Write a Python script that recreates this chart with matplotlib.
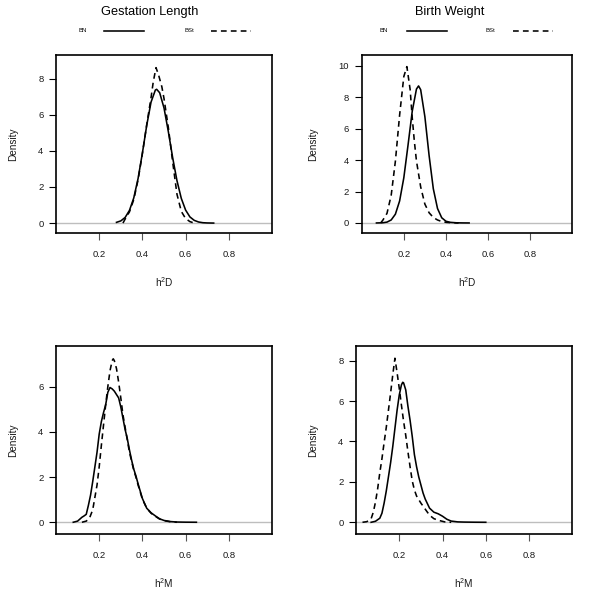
import matplotlib
matplotlib.use("Agg")
import matplotlib.pyplot as plt
from matplotlib.lines import Line2D

plt.rcParams['font.family'] = ['Liberation Sans', 'DejaVu Sans']
plt.rcParams['mathtext.default'] = 'regular'

# ---------------- data ----------------
titles = ["Gestation Length", "Birth Weight"]
series_names = ["BN", "BSt"]
xlabels = ["h$^{2}$D", "h$^{2}$D", "h$^{2}$M", "h$^{2}$M"]
x_ticks = [0.2, 0.4, 0.6, 0.8]
y_ticks_p1 = [0, 2, 4, 6, 8]
y_ticks_p2 = [0, 2, 4, 6, 8, 10]
y_ticks_p3 = [0, 2, 4, 6]
y_ticks_p4 = [0, 2, 4, 6, 8]

# Panel 1: Gestation Length, h2D
p1_bn_x = [0.28, 0.30, 0.32, 0.34, 0.36, 0.38, 0.40, 0.42, 0.44, 0.46, 0.466, 0.48, 0.50,
           0.52, 0.54, 0.56, 0.58, 0.60, 0.62, 0.64, 0.66, 0.68, 0.70, 0.73]
p1_bn_y = [0.04, 0.12, 0.31, 0.70, 1.39, 2.47, 3.88, 5.41, 6.70, 7.37, 7.41, 7.22, 6.38,
           5.07, 3.63, 2.35, 1.37, 0.72, 0.34, 0.15, 0.06, 0.02, 0.007, 0.0]
p1_bst_x = [0.31, 0.32, 0.34, 0.36, 0.38, 0.40, 0.42, 0.44, 0.45, 0.463, 0.475, 0.49, 0.50,
            0.52, 0.54, 0.56, 0.58, 0.60, 0.62, 0.64]
p1_bst_y = [0.0, 0.22, 0.62, 1.30, 2.40, 3.85, 5.45, 6.95, 7.80, 8.61, 8.20, 7.55, 6.90,
            5.30, 3.40, 1.60, 0.65, 0.25, 0.08, 0.0]

# Panel 2: Birth Weight, h2D
p2_bn_x = [0.07, 0.10, 0.12, 0.14, 0.16, 0.18, 0.20, 0.22, 0.24, 0.26, 0.27, 0.28, 0.30,
           0.32, 0.34, 0.36, 0.38, 0.40, 0.42, 0.45, 0.48, 0.51]
p2_bn_y = [0.0, 0.013, 0.054, 0.19, 0.56, 1.40, 2.88, 4.96, 7.12, 8.53, 8.73, 8.49, 6.77,
           4.30, 2.18, 0.92, 0.33, 0.11, 0.04, 0.01, 0.003, 0.0]
p2_bst_x = [0.09, 0.10, 0.12, 0.14, 0.16, 0.18, 0.20, 0.2145, 0.23, 0.24, 0.25, 0.26, 0.28,
            0.30, 0.32, 0.34, 0.36, 0.38, 0.40, 0.43, 0.46]
p2_bst_y = [0.0, 0.17, 0.61, 1.76, 3.94, 6.87, 9.33, 9.96, 8.50, 6.70, 5.20, 3.95, 2.30,
            1.20, 0.65, 0.35, 0.19, 0.09, 0.04, 0.01, 0.0]

# Panel 3: Gestation Length, h2M
p3_bn_x = [0.08, 0.10, 0.12, 0.13, 0.14, 0.15, 0.16, 0.17, 0.18, 0.19, 0.20, 0.21, 0.22,
           0.23, 0.24, 0.25, 0.26, 0.27, 0.28, 0.29, 0.30, 0.31, 0.32, 0.33, 0.34, 0.35,
           0.36, 0.37, 0.38, 0.40, 0.42, 0.44, 0.46, 0.48, 0.50, 0.53, 0.56, 0.60, 0.65]
p3_bn_y = [0.0, 0.05, 0.22, 0.28, 0.35, 0.75, 1.20, 1.80, 2.45, 3.10, 3.90, 4.45, 4.85,
           5.20, 5.75, 5.96, 5.90, 5.80, 5.65, 5.50, 5.10, 4.60, 4.10, 3.70, 3.20, 2.75,
           2.35, 2.05, 1.70, 1.05, 0.62, 0.42, 0.28, 0.15, 0.08, 0.03, 0.01, 0.003, 0.0]
p3_bst_x = [0.12, 0.14, 0.155, 0.17, 0.18, 0.19, 0.20, 0.21, 0.22, 0.23, 0.24, 0.25, 0.26,
            0.265, 0.27, 0.28, 0.29, 0.30, 0.31, 0.32, 0.33, 0.34, 0.35, 0.36, 0.37, 0.38,
            0.40, 0.42, 0.44, 0.46, 0.48, 0.50, 0.53, 0.56]
p3_bst_y = [0.0, 0.05, 0.18, 0.55, 1.10, 1.65, 2.45, 3.40, 4.30, 5.20, 6.00, 6.70, 7.15,
            7.23, 7.15, 6.80, 6.20, 5.50, 4.75, 4.20, 3.65, 3.10, 2.70, 2.30, 2.00, 1.65,
            1.02, 0.62, 0.40, 0.26, 0.14, 0.07, 0.02, 0.0]

# Panel 4: Birth Weight, h2M
p4_bn_x = [0.07, 0.09, 0.11, 0.12, 0.13, 0.14, 0.15, 0.16, 0.17, 0.18, 0.19, 0.20, 0.21,
           0.216, 0.22, 0.23, 0.24, 0.25, 0.26, 0.27, 0.28, 0.29, 0.30, 0.31, 0.32, 0.34,
           0.36, 0.38, 0.40, 0.42, 0.44, 0.47, 0.50, 0.55, 0.60]
p4_bn_y = [0.0, 0.05, 0.20, 0.45, 0.95, 1.55, 2.25, 2.95, 3.75, 4.65, 5.55, 6.30, 6.80,
           6.93, 6.90, 6.55, 5.75, 5.05, 4.25, 3.35, 2.75, 2.25, 1.85, 1.45, 1.15, 0.70,
           0.50, 0.42, 0.30, 0.15, 0.06, 0.02, 0.01, 0.003, 0.0]
p4_bst_x = [0.03, 0.05, 0.07, 0.08, 0.09, 0.10, 0.11, 0.12, 0.13, 0.14, 0.15, 0.16, 0.17,
            0.18, 0.19, 0.20, 0.21, 0.22, 0.23, 0.24, 0.25, 0.26, 0.27, 0.28, 0.30, 0.32,
            0.34, 0.36, 0.38, 0.41, 0.44]
p4_bst_y = [0.0, 0.03, 0.18, 0.50, 1.00, 1.65, 2.45, 3.15, 3.95, 4.70, 5.55, 6.40, 7.30,
            8.12, 7.40, 6.63, 5.80, 5.00, 4.30, 3.50, 2.75, 2.05, 1.60, 1.30, 0.95, 0.65,
            0.35, 0.18, 0.10, 0.02, 0.0]

# ---------------- figure ----------------
W = H = 600
fig = plt.figure(figsize=(6, 6), dpi=100)

def px_rect(x0, y0, x1, y1):
    return [x0 / W, 1 - y1 / H, (x1 - x0) / W, (y1 - y0) / H]

panels = [
    dict(rect=px_rect(56, 55, 272, 233), ylim=(-0.55, 9.31), yt=y_ticks_p1,
         bn=(p1_bn_x, p1_bn_y), bst=(p1_bst_x, p1_bst_y), xl=xlabels[0], ylx=-0.1745),
    dict(rect=px_rect(361.7, 55, 572.3, 233), ylim=(-0.64, 10.7), yt=y_ticks_p2,
         bn=(p2_bn_x, p2_bn_y), bst=(p2_bst_x, p2_bst_y), xl=xlabels[1], ylx=-0.206),
    dict(rect=px_rect(56, 345.7, 272, 534), ylim=(-0.52, 7.81), yt=y_ticks_p3,
         bn=(p3_bn_x, p3_bn_y), bst=(p3_bst_x, p3_bst_y), xl=xlabels[2], ylx=-0.1745),
    dict(rect=px_rect(356, 345.7, 572.3, 534), ylim=(-0.58, 8.74), yt=y_ticks_p4,
         bn=(p4_bn_x, p4_bn_y), bst=(p4_bst_x, p4_bst_y), xl=xlabels[3], ylx=-0.174),
]

LW = 1.15
DASH = (3.6, 2.6)
TXT = "#1a1a1a"
for p in panels:
    ax = fig.add_axes(p["rect"])
    ax.axhline(0, color="#bebebe", lw=1.0, zorder=1)
    ax.plot(*p["bn"], color="black", lw=LW, zorder=3)
    ax.plot(*p["bst"], color="black", lw=LW, dashes=DASH, zorder=3)
    ax.set_xlim(0, 1)
    ax.set_ylim(*p["ylim"])
    ax.set_xticks(x_ticks)
    ax.set_xticklabels([f"{t:.1f}" for t in x_ticks])
    ax.set_yticks(p["yt"])
    ax.set_yticklabels([str(t) for t in p["yt"]])
    ax.tick_params(axis="both", direction="out", length=5, width=0.8,
                   labelsize=6.8, colors="black", labelcolor=TXT)
    ax.tick_params(axis="x", pad=7, color="#555555")
    ax.tick_params(axis="y", pad=4)
    for s in ax.spines.values():
        s.set_linewidth(1.2)
    ax.set_xlabel(p["xl"], fontsize=7.2, color=TXT, labelpad=12)
    ax.set_ylabel("Density", fontsize=7.2, color=TXT)
    ax.yaxis.set_label_coords(p["ylx"], 0.5)

# titles
fig.text(150 / W, 1 - 12 / H, titles[0], ha="center", va="center", fontsize=9.2)
fig.text(450 / W, 1 - 12 / H, titles[1], ha="center", va="center", fontsize=9.2)

# legends
def legend_row(bn_x, bn_l0, bn_l1, bst_x, bst_l0, bst_l1, y=30.7):
    yf = 1 - y / H
    fig.text(bn_x / W, yf, series_names[0], ha="center", va="center", fontsize=4.3)
    fig.add_artist(Line2D([bn_l0 / W, bn_l1 / W], [yf, yf], color="black", lw=LW,
                          transform=fig.transFigure))
    fig.text(bst_x / W, yf, series_names[1], ha="center", va="center", fontsize=4.3)
    fig.add_artist(Line2D([bst_l0 / W, bst_l1 / W], [yf, yf], color="black", lw=LW,
                          dashes=DASH, transform=fig.transFigure))

legend_row(83, 104, 144, 189, 211, 251)
legend_row(384, 407, 447, 490, 513, 553)

fig.savefig("out.png", dpi=100)
